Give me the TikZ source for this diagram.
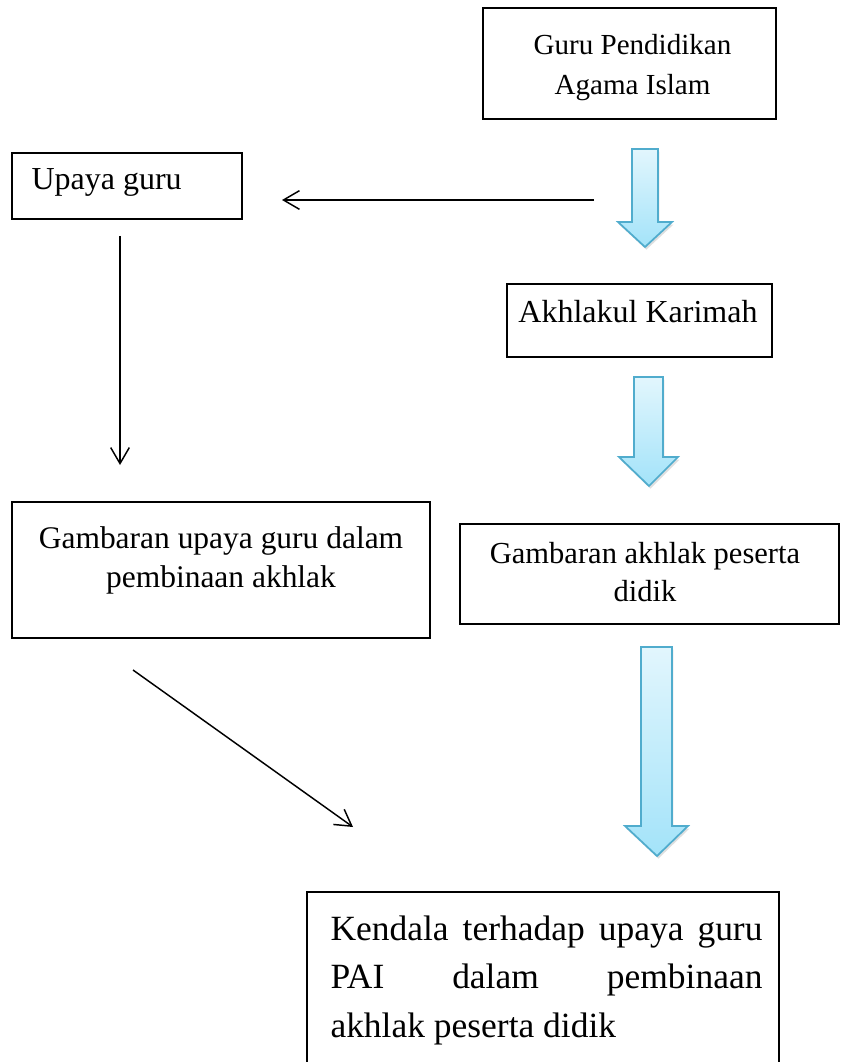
\documentclass[tikz,border=0pt]{standalone}
\usepackage{fontspec}
\setmainfont{Liberation Serif}
\usetikzlibrary{arrows.meta,calc,fit,shadows}
\tikzset{every picture/.style={line width=0.75pt}}
\definecolor{panahatas}{RGB}{226,246,253}
\definecolor{panahbawah}{RGB}{163,227,249}
\definecolor{panahgaris}{RGB}{80,172,205}

\begin{document}
\begin{tikzpicture}[x=0.75pt,y=0.75pt,yscale=-1,xscale=1,
  kotak/.style={draw, line width=1.1pt, inner sep=0pt},
  teks/.style={inner sep=0pt, align=center},
  garis/.style={line width=1.1pt, -{Straight Barb[length=12pt,width=14pt]}},
  panah/.style={top color=panahatas, bottom color=panahbawah, draw=panahgaris, line width=1.3pt, line join=miter, drop shadow={opacity=0.25, shadow xshift=1pt, shadow yshift=-2pt}}]
\useasboundingbox (0,0) rectangle (840,1062);
\clip (0,0) rectangle (840,1062);

%Boxes
\node[kotak, fit={(483,8) (776,119)}] (guru) {};
\node[kotak, fit={(12,153) (242,219)}] (upaya) {};
\node[kotak, fit={(507,284) (772,357)}] (akhlak) {};
\node[kotak, fit={(12,502) (430,638)}] (gbupaya) {};
\node[kotak, fit={(460,524) (839,624)}] (gbakhlak) {};
\node[kotak, fit={(307,892) (779,1080)}] (kendala) {};

% Text Node
\node[teks, font=\fontsize{21.8}{30}\selectfont] (gurut) at ($(guru.center)+(3,4)$) {Guru Pendidikan\\Agama Islam};
% Text Node
\node[teks, anchor=base west, font=\fontsize{24}{29}\selectfont] (upayat) at (31,190) {Upaya guru};
% Text Node
\node[teks, anchor=base, font=\fontsize{24}{29}\selectfont] (akhlakt) at (638,322) {Akhlakul Karimah};
% Text Node
\node[teks, font=\fontsize{23.6}{29.25}\selectfont] (gbupayat) at (221,560) {Gambaran upaya guru dalam\\pembinaan akhlak};
% Text Node
\node[teks, font=\fontsize{22.9}{28.5}\selectfont] (gbakhlakt) at (645,572) {Gambaran akhlak peserta\\didik};
% Text Node
\node[teks, anchor=north west, text width=324pt, align=justify, font=\fontsize{26.6}{36.5}\selectfont] (kendalat) at (330,915) {Kendala terhadap upaya guru\linebreak PAI dalam pembinaan\linebreak akhlak peserta didik};

%Line arrows
\coordinate (h1) at (594,200);
\coordinate (h2) at (282,200);
\coordinate (v1) at (120,236);
\coordinate (v2) at (120,465);
\coordinate (d1) at (133,670);
\coordinate (d2) at (353,827);
\draw[garis] (h1) -- (h2);
\draw[garis] (v1) -- (v2);
\draw[garis] (d1) -- (d2);

%Block arrows
\draw[panah] (632,149) -- (658,149) -- (658,222) -- (672,222) -- (645,247) -- (618,222) -- (632,222) -- cycle;
\draw[panah] (634,377) -- (663,377) -- (663,457) -- (678,457) -- (649,486) -- (619,457) -- (634,457) -- cycle;
\draw[panah] (641,647) -- (672,647) -- (672,826) -- (688,826) -- (657,856) -- (625,826) -- (641,826) -- cycle;

\end{tikzpicture}
\end{document}
